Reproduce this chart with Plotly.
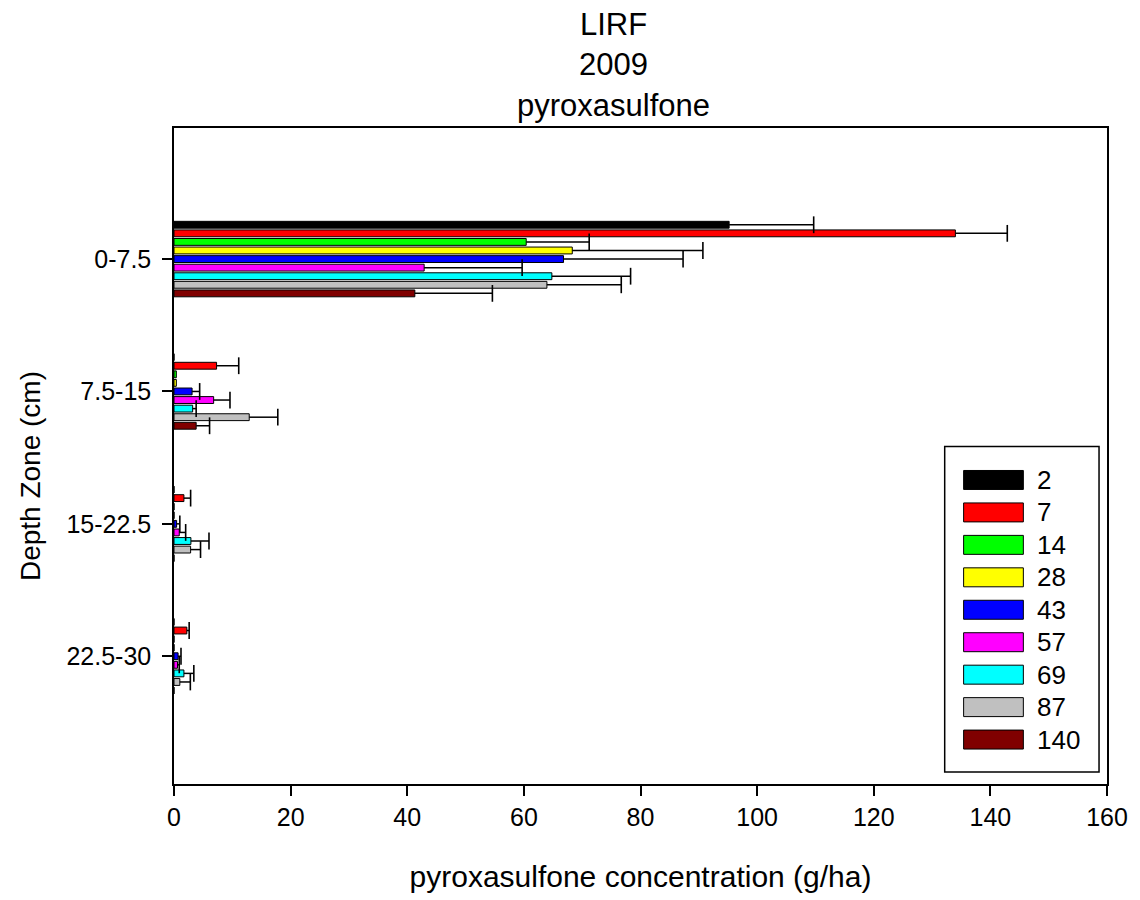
import plotly.graph_objects as go

# Depth zones (y categories) and sampling days (series)
depth_zones = ["0-7.5", "7.5-15", "15-22.5", "22.5-30"]
days = ["2", "7", "14", "28", "43", "57", "69", "87", "140"]
day_colors = ["#000000", "#FF0000", "#00FF00", "#FFFF00", "#0000FF",
              "#FF00FF", "#00FFFF", "#C0C0C0", "#800000"]

# Mean pyroxasulfone concentration (g/ha) per depth zone, one list per day
conc_2 = [95.2, 0, 0, 0]
conc_7 = [134.0, 7.3, 1.7, 2.2]
conc_14 = [60.4, 0.4, 0, 0]
conc_28 = [68.3, 0.4, 0, 0]
conc_43 = [66.8, 3.1, 0.45, 0.7]
conc_57 = [42.9, 6.8, 0.9, 0.6]
conc_69 = [64.8, 3.2, 2.9, 1.7]
conc_87 = [63.95, 12.9, 2.85, 1.0]
conc_140 = [41.3, 3.8, 0, 0]

# Standard error (plus side only)
se_2 = [14.5, 0, 0, 0]
se_7 = [8.9, 3.8, 1.15, 0.4]
se_14 = [10.8, 0, 0, 0]
se_28 = [22.4, 0, 0, 0]
se_43 = [20.5, 1.3, 0.55, 0.5]
se_57 = [16.8, 2.8, 1.1, 0.3]
se_69 = [13.5, 0.6, 3.1, 1.7]
se_87 = [12.75, 4.9, 1.7, 1.8]
se_140 = [13.3, 2.3, 0, 0]

concs = [conc_2, conc_7, conc_14, conc_28, conc_43, conc_57, conc_69, conc_87, conc_140]
ses = [se_2, se_7, se_14, se_28, se_43, se_57, se_69, se_87, se_140]

title_lines = ["LIRF", "2009", "pyroxasulfone"]
y_title = "Depth Zone (cm)"
x_title = "pyroxasulfone concentration (g/ha)"

FONT = "Arial, Liberation Sans, sans-serif"
BAR_GAP = 0.417

fig = go.Figure()

for day, color, vals, errs in zip(days, day_colors, concs, ses):
    # bars with the error whisker (no caps)
    fig.add_trace(go.Bar(
        x=vals, y=depth_zones, orientation="h", name=day,
        marker=dict(color=color, line=dict(color="#000000", width=1)),
        error_x=dict(type="data", symmetric=False, array=errs,
                     arrayminus=[0] * len(errs), color="#000000",
                     thickness=1.5, width=0),
        showlegend=False,
    ))

for day, vals, errs in zip(days, concs, ses):
    # caps at the end of each whisker, grouped like the bars
    cap_x = [v + e if e > 0 else None for v, e in zip(vals, errs)]
    fig.add_trace(go.Scatter(
        x=cap_x, y=depth_zones, orientation="h", mode="markers",
        marker=dict(symbol="line-ns", size=12, color="#000000",
                    line=dict(color="#000000", width=1.6)),
        showlegend=False, hoverinfo="skip",
    ))

# Plot-area geometry in pixels, used to place the boxed legend and titles
L, R, T, B = 174, 1111, 128, 785
W, H = R - L, B - T


def px_x(p):
    return (p - L) / W


def px_y(p):
    return (B - p) / H


shapes = [dict(type="rect", xref="paper", yref="paper",
               x0=px_x(948), x1=px_x(1103), y0=px_y(773), y1=px_y(447),
               line=dict(color="#000000", width=1.5), fillcolor="#FFFFFF",
               layer="above")]
annotations = []
first_center, pitch = 480.5, 32.5
for i, (day, color) in enumerate(zip(days, day_colors)):
    cy = first_center + i * pitch
    shapes.append(dict(type="rect", xref="paper", yref="paper",
                       x0=px_x(967), x1=px_x(1027),
                       y0=px_y(cy + 9.5), y1=px_y(cy - 9.5),
                       line=dict(color="#000000", width=1), fillcolor=color,
                       layer="above"))
    annotations.append(dict(xref="paper", yref="paper", x=px_x(1039), y=px_y(cy),
                            text=day, showarrow=False, xanchor="left",
                            yanchor="middle",
                            font=dict(family=FONT, size=26, color="#000000")))

# three-line chart title
annotations.append(dict(xref="paper", yref="paper", x=px_x(615), y=px_y(5),
                        text="<br>".join(title_lines), showarrow=False,
                        xanchor="center", yanchor="top", align="center",
                        font=dict(family=FONT, size=31, color="#000000")))

# vertical axis title
annotations.append(dict(xref="paper", yref="paper", x=px_x(30), y=px_y(477),
                        text=y_title, showarrow=False, textangle=-90,
                        xanchor="center", yanchor="middle",
                        font=dict(family=FONT, size=28, color="#000000")))

fig.update_layout(
    width=1140, height=900,
    margin=dict(l=L, r=1140 - R, t=T, b=900 - B),
    paper_bgcolor="#FFFFFF", plot_bgcolor="#FFFFFF",
    barmode="group", bargap=BAR_GAP, bargroupgap=0.2,
    scattermode="group", scattergap=BAR_GAP,
    font=dict(family=FONT, color="#000000"),
    shapes=shapes, annotations=annotations,
    showlegend=False,
)

fig.update_xaxes(
    range=[0, 160], dtick=20, tick0=0,
    showgrid=False, zeroline=False,
    showline=True, linecolor="#000000", linewidth=1.5, mirror=True,
    ticks="outside", ticklen=10, tickwidth=1.5, tickcolor="#000000",
    tickfont=dict(family=FONT, size=25, color="#000000"),
    ticklabelstandoff=0,
    title=dict(text=x_title, standoff=36,
               font=dict(family=FONT, size=30, color="#000000")),
)

fig.update_yaxes(
    type="category", categoryorder="array", categoryarray=depth_zones,
    range=[3.965, -0.99],
    showgrid=False, zeroline=False,
    showline=True, linecolor="#000000", linewidth=1.5, mirror=True,
    ticks="outside", ticklen=10, tickwidth=1.5, tickcolor="#000000",
    tickfont=dict(family=FONT, size=25, color="#000000"),
    ticklabelstandoff=6,
)

fig.write_html("out.html")
